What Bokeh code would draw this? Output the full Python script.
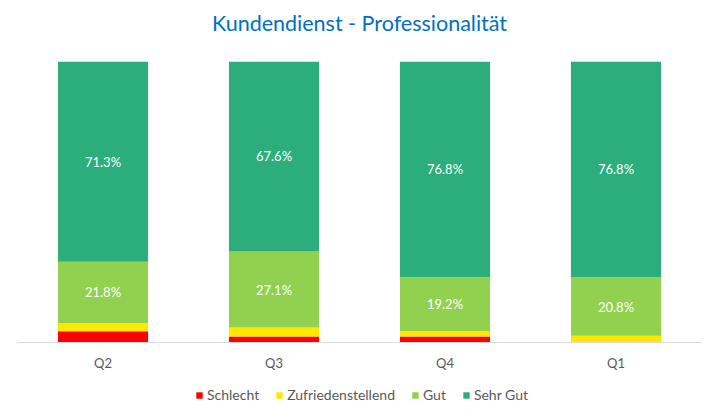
from bokeh.plotting import figure
from bokeh.layouts import column
from bokeh.models import ColumnDataSource, LabelSet, Label, Legend, LegendItem, FactorRange, Range1d
from bokeh.core.properties import value
from bokeh.embed import file_html
from bokeh.resources import INLINE

quarters = ["Q2", "Q3", "Q4", "Q1"]
schlecht = [4.0, 2.1, 2.1, 0.0]
zufrieden = [2.9, 3.2, 1.9, 2.4]
gut = [21.8, 27.1, 19.2, 20.8]
sehr_gut = [71.3, 67.6, 76.8, 76.8]
series = ["Schlecht", "Zufriedenstellend", "Gut", "Sehr Gut"]
colors = ["#FF0000", "#FFE700", "#92D050", "#2BAE7B"]
title_text = "Kundendienst - Professionalität"

FONT = "Lato"
W = 718

src = ColumnDataSource(data=dict(q=quarters, Schlecht=schlecht, Zufriedenstellend=zufrieden,
                                 Gut=gut, **{"Sehr Gut": sehr_gut}))


def strip(h, xr, yr):
    f = figure(width=W, height=h, output_backend="svg", toolbar_location=None,
               x_range=xr, y_range=yr,
               min_border_left=0, min_border_right=0, min_border_top=0, min_border_bottom=0)
    f.axis.visible = False
    f.grid.grid_line_color = None
    f.outline_line_color = None
    return f


# title strip
pt = strip(61, Range1d(0, W), Range1d(0, 61))
pt.add_layout(Label(x=359, y=39, text=title_text, text_font=FONT, text_font_size="21.5px",
                    text_color="#0070C0", text_align="center", text_baseline="middle"))

# main chart
p = figure(x_range=FactorRange(*quarters, range_padding=0), y_range=Range1d(0, 100),
           width=W, height=319, output_backend="svg", toolbar_location=None,
           min_border_left=17, min_border_right=17, min_border_top=0, min_border_bottom=38)
p.outline_line_color = None
p.xgrid.grid_line_color = None
p.ygrid.grid_line_color = None
p.yaxis.visible = False

rs = p.vbar_stack(series, x="q", width=0.527, color=colors, source=src, line_width=0)

# data labels on Gut and Sehr Gut
base_g = [a + b for a, b in zip(schlecht, zufrieden)]
lab_y = [b + g / 2 for b, g in zip(base_g, gut)] + [b + g + s / 2 for b, g, s in zip(base_g, gut, sehr_gut)]
lab_x = quarters + quarters
lab_t = ["%.1f%%" % v for v in gut] + ["%.1f%%" % v for v in sehr_gut]
lsrc = ColumnDataSource(data=dict(x=lab_x, y=lab_y, t=lab_t))
p.add_layout(LabelSet(x="x", y="y", text="t", source=lsrc, text_color="white",
                      text_font=value(FONT), text_font_size=value("13px"), text_align="center",
                      text_baseline="middle"))

ax = p.xaxis[0]
ax.axis_line_color = "#D9D9D9"
ax.axis_line_width = 1
ax.major_tick_line_color = None
ax.minor_tick_line_color = None
ax.major_label_text_font = FONT
ax.major_label_text_font_size = "13px"
ax.major_label_text_color = "#595959"
ax.major_label_standoff = 6

# legend strip below the chart (same stacked bars, kept out of view)
pl = strip(38, FactorRange(*quarters), Range1d(200, 300))
lr = pl.vbar_stack(series, x="q", width=0.527, color=colors, source=src, line_width=0)
items = [LegendItem(label=s, renderers=[r]) for s, r in zip(series, lr)]
leg = Legend(items=items, orientation="horizontal", location=(178, 15),
             glyph_width=8, glyph_height=8, label_standoff=4, spacing=16,
             label_text_font=FONT, label_text_font_size="14px", label_text_color="#595959",
             padding=0, margin=0, border_line_color=None, background_fill_alpha=0)
pl.add_layout(leg, "center")

layout = column(pt, p, pl, spacing=0)
open("out.html", "w").write(file_html(layout, INLINE))
